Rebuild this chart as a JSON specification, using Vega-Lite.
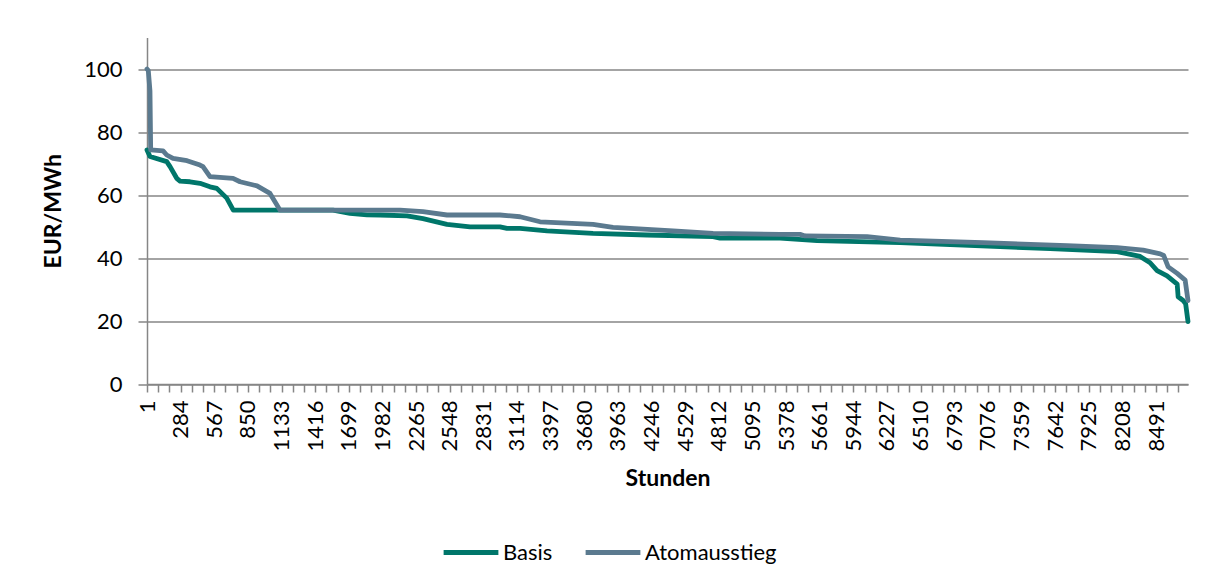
{
  "$schema": "https://vega.github.io/schema/vega-lite/v6.json",
  "width": 1041,
  "height": 346.5,
  "autosize": {"type": "none"},
  "padding": {"left": 147, "top": 37.5, "right": 25, "bottom": 203},
  "background": "white",
  "config": {
    "view": {"stroke": null},
    "font": "Lato",
    "axis": {"labelFont": "Lato", "titleFont": "Lato", "labelColor": "#000000", "titleColor": "#000000"}
  },
  "data": {
    "values": [
      {"h": 1, "v": 74.3, "s": "Basis"},
      {"h": 26, "v": 72.2, "s": "Basis"},
      {"h": 167, "v": 70.6, "s": "Basis"},
      {"h": 195, "v": 69.0, "s": "Basis"},
      {"h": 251, "v": 65.3, "s": "Basis"},
      {"h": 279, "v": 64.4, "s": "Basis"},
      {"h": 363, "v": 64.2, "s": "Basis"},
      {"h": 447, "v": 63.7, "s": "Basis"},
      {"h": 531, "v": 62.6, "s": "Basis"},
      {"h": 588, "v": 62.1, "s": "Basis"},
      {"h": 672, "v": 59.0, "s": "Basis"},
      {"h": 727, "v": 55.2, "s": "Basis"},
      {"h": 1566, "v": 55.2, "s": "Basis"},
      {"h": 1709, "v": 54.2, "s": "Basis"},
      {"h": 1852, "v": 53.7, "s": "Basis"},
      {"h": 1962, "v": 53.65, "s": "Basis"},
      {"h": 2189, "v": 53.4, "s": "Basis"},
      {"h": 2323, "v": 52.5, "s": "Basis"},
      {"h": 2525, "v": 50.7, "s": "Basis"},
      {"h": 2719, "v": 49.9, "s": "Basis"},
      {"h": 2971, "v": 49.9, "s": "Basis"},
      {"h": 3030, "v": 49.4, "s": "Basis"},
      {"h": 3140, "v": 49.4, "s": "Basis"},
      {"h": 3367, "v": 48.6, "s": "Basis"},
      {"h": 3754, "v": 47.8, "s": "Basis"},
      {"h": 4209, "v": 47.3, "s": "Basis"},
      {"h": 4764, "v": 46.8, "s": "Basis"},
      {"h": 4823, "v": 46.3, "s": "Basis"},
      {"h": 5328, "v": 46.3, "s": "Basis"},
      {"h": 5639, "v": 45.5, "s": "Basis"},
      {"h": 6338, "v": 44.9, "s": "Basis"},
      {"h": 7179, "v": 43.6, "s": "Basis"},
      {"h": 7600, "v": 43.0, "s": "Basis"},
      {"h": 8164, "v": 42.0, "s": "Basis"},
      {"h": 8357, "v": 40.5, "s": "Basis"},
      {"h": 8441, "v": 38.5, "s": "Basis"},
      {"h": 8500, "v": 36.0, "s": "Basis"},
      {"h": 8584, "v": 34.3, "s": "Basis"},
      {"h": 8669, "v": 31.7, "s": "Basis"},
      {"h": 8677, "v": 27.7, "s": "Basis"},
      {"h": 8719, "v": 26.5, "s": "Basis"},
      {"h": 8740, "v": 25.5, "s": "Basis"},
      {"h": 8760, "v": 19.8, "s": "Basis"},
      {"h": 1, "v": 100.0, "s": "Atomausstieg"},
      {"h": 12, "v": 99.5, "s": "Atomausstieg"},
      {"h": 26, "v": 93.0, "s": "Atomausstieg"},
      {"h": 32, "v": 74.3, "s": "Atomausstieg"},
      {"h": 136, "v": 74.0, "s": "Atomausstieg"},
      {"h": 167, "v": 72.7, "s": "Atomausstieg"},
      {"h": 220, "v": 71.6, "s": "Atomausstieg"},
      {"h": 338, "v": 70.9, "s": "Atomausstieg"},
      {"h": 447, "v": 69.5, "s": "Atomausstieg"},
      {"h": 472, "v": 69.0, "s": "Atomausstieg"},
      {"h": 531, "v": 65.8, "s": "Atomausstieg"},
      {"h": 725, "v": 65.3, "s": "Atomausstieg"},
      {"h": 784, "v": 64.2, "s": "Atomausstieg"},
      {"h": 927, "v": 62.9, "s": "Atomausstieg"},
      {"h": 1036, "v": 60.5, "s": "Atomausstieg"},
      {"h": 1120, "v": 55.2, "s": "Atomausstieg"},
      {"h": 2130, "v": 55.2, "s": "Atomausstieg"},
      {"h": 2323, "v": 54.7, "s": "Atomausstieg"},
      {"h": 2525, "v": 53.65, "s": "Atomausstieg"},
      {"h": 2971, "v": 53.65, "s": "Atomausstieg"},
      {"h": 3140, "v": 53.1, "s": "Atomausstieg"},
      {"h": 3308, "v": 51.5, "s": "Atomausstieg"},
      {"h": 3754, "v": 50.7, "s": "Atomausstieg"},
      {"h": 3922, "v": 49.7, "s": "Atomausstieg"},
      {"h": 4428, "v": 48.6, "s": "Atomausstieg"},
      {"h": 4764, "v": 47.8, "s": "Atomausstieg"},
      {"h": 5328, "v": 47.5, "s": "Atomausstieg"},
      {"h": 5496, "v": 47.5, "s": "Atomausstieg"},
      {"h": 5538, "v": 47.0, "s": "Atomausstieg"},
      {"h": 6060, "v": 46.8, "s": "Atomausstieg"},
      {"h": 6338, "v": 45.7, "s": "Atomausstieg"},
      {"h": 7036, "v": 44.9, "s": "Atomausstieg"},
      {"h": 7743, "v": 43.9, "s": "Atomausstieg"},
      {"h": 8164, "v": 43.3, "s": "Atomausstieg"},
      {"h": 8383, "v": 42.5, "s": "Atomausstieg"},
      {"h": 8526, "v": 41.3, "s": "Atomausstieg"},
      {"h": 8555, "v": 40.8, "s": "Atomausstieg"},
      {"h": 8593, "v": 37.2, "s": "Atomausstieg"},
      {"h": 8669, "v": 35.1, "s": "Atomausstieg"},
      {"h": 8736, "v": 33.0, "s": "Atomausstieg"},
      {"h": 8760, "v": 26.5, "s": "Atomausstieg"}
    ]
  },
  "layer": [
    {
      "transform": [{"filter": "datum.s == 'Basis'"}],
      "mark": {"type": "line", "strokeWidth": 4.8, "strokeJoin": "round", "strokeCap": "round"},
      "encoding": {
        "x": {"field": "h", "type": "quantitative"},
        "y": {"field": "v", "type": "quantitative"},
        "color": {"field": "s", "type": "nominal"}
      }
    },
    {
      "transform": [{"filter": "datum.s == 'Atomausstieg'"}],
      "mark": {"type": "line", "strokeWidth": 4.8, "strokeJoin": "round", "strokeCap": "round"},
      "encoding": {
        "x": {"field": "h", "type": "quantitative"},
        "y": {"field": "v", "type": "quantitative"},
        "color": {"field": "s", "type": "nominal"}
      }
    }
  ],
  "resolve": {"scale": {"color": "shared"}},
  "encoding": {
    "x": {
      "field": "h", "type": "quantitative",
      "scale": {"domain": [1, 8760], "nice": false, "zero": false},
      "axis": {
        "title": "Stunden",
        "titleFontSize": 23, "titleFontWeight": "bold", "titlePadding": 16,
        "values": [1, 95.33, 189.67, 284, 378.33, 472.67, 567, 661.33, 755.67, 850, 944.33, 1038.67, 1133, 1227.33, 1321.67, 1416, 1510.33, 1604.67, 1699, 1793.33, 1887.67, 1982, 2076.33, 2170.67, 2265, 2359.33, 2453.67, 2548, 2642.33, 2736.67, 2831, 2925.33, 3019.67, 3114, 3208.33, 3302.67, 3397, 3491.33, 3585.67, 3680, 3774.33, 3868.67, 3963, 4057.33, 4151.67, 4246, 4340.33, 4434.67, 4529, 4623.33, 4717.67, 4812, 4906.33, 5000.67, 5095, 5189.33, 5283.67, 5378, 5472.33, 5566.67, 5661, 5755.33, 5849.67, 5944, 6038.33, 6132.67, 6227, 6321.33, 6415.67, 6510, 6604.33, 6698.67, 6793, 6887.33, 6981.67, 7076, 7170.33, 7264.67, 7359, 7453.33, 7547.67, 7642, 7736.33, 7830.67, 7925, 8019.33, 8113.67, 8208, 8302.33, 8396.67, 8491, 8585.33, 8679.67],
        "labelExpr": "abs((datum.value - 1) / 283 - round((datum.value - 1) / 283)) < 0.01 ? format(round(datum.value), 'd') : ''",
        "labelAngle": -90, "labelAlign": "right", "labelBaseline": "middle",
        "labelFontSize": 22, "labelPadding": 8, "labelOverlap": false, "labelBound": false, "labelFlush": false,
        "grid": false, "domainColor": "#868686", "domainWidth": 1.5,
        "tickColor": "#868686", "tickWidth": 1.5, "tickSize": 8
      }
    },
    "y": {
      "field": "v", "type": "quantitative",
      "scale": {"domain": [0, 110], "nice": false},
      "axis": {
        "title": "EUR/MWh",
        "titleFontSize": 23, "titleFontWeight": "bold", "titlePadding": 18,
        "values": [0, 20, 40, 60, 80, 100],
        "labelFontSize": 22, "labelPadding": 16,
        "grid": true, "gridColor": "#868686", "gridWidth": 1.5,
        "domainColor": "#868686", "domainWidth": 1.5,
        "tickColor": "#868686", "tickWidth": 1.5, "tickSize": 9
      }
    },
    "color": {
      "field": "s", "type": "nominal",
      "scale": {"domain": ["Basis", "Atomausstieg"], "range": ["#00766A", "#5B7A8F"]},
      "legend": {
        "title": null, "orient": "none", "direction": "horizontal",
        "legendX": 294, "legendY": 485,
        "symbolType": "stroke", "symbolStrokeWidth": 5, "symbolSize": 3000,
        "labelFontSize": 22, "labelFont": "Lato", "labelColor": "#000000",
        "labelOffset": 2, "columnPadding": 22
      }
    }
  }
}
